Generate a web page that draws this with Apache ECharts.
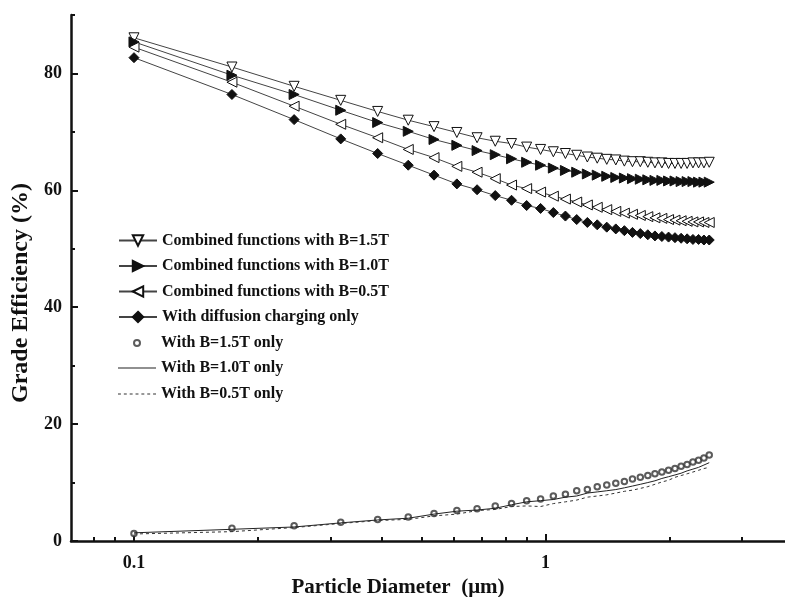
<!DOCTYPE html>
<html>
<head>
<meta charset="utf-8">
<script src="https://cdn.jsdelivr.net/npm/echarts@6/dist/echarts.min.js"></script>
<style>
html, body { margin: 0; padding: 0; background: #fff; }
#chart { width: 785px; height: 597px; }
</style>
</head>
<body>
<div id="chart"></div>
<script>
// particle diameters (um)
const diameters = [0.1, 0.173, 0.245, 0.318, 0.391, 0.464, 0.536, 0.609, 0.682, 0.755, 0.827, 0.9,
  0.973, 1.045, 1.118, 1.191, 1.264, 1.336, 1.409, 1.482, 1.555, 1.627, 1.7, 1.773, 1.845, 1.918,
  1.991, 2.064, 2.136, 2.209, 2.282, 2.355, 2.427, 2.5];

const combined15 = [86.1, 81.1, 77.8, 75.4, 73.5, 72.0, 70.9, 69.9, 69.0, 68.4, 68.0, 67.4, 67.0,
  66.6, 66.3, 66.0, 65.7, 65.5, 65.3, 65.2, 65.0, 64.9, 64.9, 64.8, 64.7, 64.7, 64.6, 64.6, 64.6,
  64.6, 64.7, 64.7, 64.7, 64.8];
const combined10 = [85.4, 79.7, 76.4, 73.7, 71.6, 70.1, 68.7, 67.7, 66.8, 66.1, 65.4, 64.8, 64.3,
  63.8, 63.4, 63.1, 62.8, 62.6, 62.4, 62.2, 62.1, 62.0, 61.9, 61.8, 61.7, 61.7, 61.6, 61.6, 61.5,
  61.5, 61.5, 61.4, 61.4, 61.4];
const combined05 = [84.5, 78.5, 74.4, 71.3, 69.0, 67.0, 65.6, 64.1, 63.1, 62.0, 60.9, 60.3, 59.7,
  59.0, 58.5, 58.0, 57.5, 57.1, 56.7, 56.4, 56.1, 55.9, 55.7, 55.5, 55.3, 55.2, 55.0, 54.9, 54.8,
  54.7, 54.6, 54.6, 54.5, 54.5];
const diffusionOnly = [82.7, 76.4, 72.1, 68.8, 66.3, 64.3, 62.6, 61.1, 60.1, 59.1, 58.3, 57.4, 56.9,
  56.2, 55.6, 55.0, 54.5, 54.1, 53.7, 53.4, 53.1, 52.8, 52.6, 52.4, 52.2, 52.1, 52.0, 51.9, 51.8,
  51.7, 51.6, 51.6, 51.5, 51.5];
const magnet15 = [1.3, 2.2, 2.6, 3.2, 3.7, 4.1, 4.7, 5.2, 5.5, 6.0, 6.4, 6.9, 7.2, 7.7, 8.0, 8.6,
  8.8, 9.3, 9.6, 9.9, 10.2, 10.6, 10.9, 11.2, 11.5, 11.8, 12.1, 12.4, 12.8, 13.1, 13.5, 13.8, 14.2, 14.7];
const magnet10 = [1.4, 2.0, 2.4, 3.1, 3.6, 3.9, 4.6, 5.1, 5.3, 5.6, 6.2, 6.7, 6.9, 7.1, 7.5, 7.7,
  8.2, 8.4, 8.6, 8.8, 9.1, 9.4, 9.7, 10.0, 10.3, 10.7, 11.0, 11.3, 11.6, 12.0, 12.3, 12.6, 13.0, 13.4];
const magnet05 = [1.2, 1.6, 2.3, 3.0, 3.5, 3.7, 4.3, 4.6, 5.2, 5.4, 5.9, 6.0, 5.9, 6.4, 6.7, 7.0,
  7.5, 7.7, 7.9, 8.2, 8.5, 8.7, 9.0, 9.3, 9.7, 10.1, 10.4, 10.9, 11.2, 11.5, 11.8, 12.1, 12.4, 12.6];

const names = [
  'Combined functions with B=1.5T',
  'Combined functions with B=1.0T',
  'Combined functions with B=0.5T',
  'With diffusion charging only',
  'With B=1.5T only',
  'With B=1.0T only',
  'With B=0.5T only'
];

const xMinor = [0.08, 0.09, 0.2, 0.3, 0.4, 0.5, 0.6, 0.7, 0.8, 0.9, 2, 3];
const yMajor = [0, 20, 40, 60, 80];
const yMinor = [10, 30, 50, 70, 90];

const FONT = '"Liberation Serif", "Times New Roman", serif';
const pairs = (ys) => diameters.map((d, i) => [d, ys[i]]);

const markerSeries = (name, ys, symbol, rotate, fill) => ({
  name: name,
  type: 'line',
  data: pairs(ys),
  symbol: symbol,
  symbolRotate: rotate,
  symbolSize: 10,
  showAllSymbol: true,
  lineStyle: { color: '#444', width: 1 },
  itemStyle: { color: fill, borderColor: '#111', borderWidth: 1 },
  z: 3
});

const chart = echarts.init(document.getElementById('chart'));
const legendText = { fontFamily: FONT, fontWeight: 'bold', fontSize: 16, color: '#111', lineHeight: 16 };

chart.setOption({
  animation: false,
  backgroundColor: '#fff',
  grid: { left: 71, right: 0, top: 15, bottom: 56, outerBoundsMode: 'none', containLabel: false },
  legend: [
    {
      orient: 'vertical', left: 113, top: 227.5, itemWidth: 38, itemHeight: 13, itemGap: 9.5,
      data: names.slice(0, 4), textStyle: legendText, selectedMode: false
    },
    {
      orient: 'vertical', left: 128, top: 330, itemWidth: 38, itemHeight: 6, itemGap: 9.5,
      data: [names[4]], textStyle: legendText, selectedMode: false
    },
    {
      orient: 'vertical', left: 113, top: 355, itemWidth: 38, itemHeight: 13, itemGap: 10,
      data: [
        { name: names[5], icon: 'path://M0,0H40V1H0Z' },
        { name: names[6], icon: 'path://M0,0H3V1H0Z M6,0H9V1H6Z M12,0H15V1H12Z M18,0H21V1H18Z M24,0H27V1H24Z M30,0H33V1H30Z M36,0H39V1H36Z' }
      ],
      textStyle: legendText, selectedMode: false
    }
  ],
  xAxis: [
    {
      type: 'log', logBase: 10, min: 0.0703, max: 3.82,
      name: 'Particle Diameter  (\u03bcm)', nameLocation: 'middle', nameGap: 33,
      nameTextStyle: { fontFamily: FONT, fontWeight: 'bold', fontSize: 21, color: '#111', padding: [0, 60, 0, 0] },
      axisLine: { lineStyle: { color: '#111', width: 2.5 } },
      axisTick: { inside: true, length: 7, lineStyle: { width: 2, color: '#111' } },
      axisLabel: { showMinLabel: false, showMaxLabel: false, margin: 13,
        fontFamily: FONT, fontWeight: 'bold', fontSize: 18, color: '#111' },
      splitLine: { show: false }
    },
    {
      type: 'log', logBase: 10, min: 0.0703, max: 3.82, position: 'bottom', offset: 0,
      axisLine: { show: false },
      axisTick: { show: true, inside: true, length: 4, customValues: xMinor, lineStyle: { width: 2, color: '#111' } },
      axisLabel: { show: false },
      splitLine: { show: false }
    }
  ],
  yAxis: [
    {
      type: 'value', min: 0, max: 90, interval: 20,
      name: 'Grade Efficiency (%)', nameLocation: 'middle', nameGap: 26,
      nameTextStyle: { fontFamily: FONT, fontWeight: 'bold', fontSize: 24, color: '#111', padding: [0, 30, 0, 0] },
      axisLine: { show: true, lineStyle: { color: '#111', width: 2.5 } },
      axisTick: { show: true, inside: true, length: 7, customValues: yMajor, lineStyle: { width: 2, color: '#111' } },
      axisLabel: { customValues: yMajor, margin: 9, fontFamily: FONT, fontWeight: 'bold', fontSize: 18, color: '#111' },
      splitLine: { show: false }
    },
    {
      type: 'value', min: 0, max: 90, position: 'left', offset: 0,
      axisLine: { show: false },
      axisTick: { show: true, inside: true, length: 4, customValues: yMinor, lineStyle: { width: 2, color: '#111' } },
      axisLabel: { show: false },
      splitLine: { show: false }
    }
  ],
  series: [
    markerSeries(names[0], combined15, 'triangle', 180, '#fff'),
    markerSeries(names[1], combined10, 'triangle', -90, '#111'),
    markerSeries(names[2], combined05, 'triangle', 90, '#fff'),
    markerSeries(names[3], diffusionOnly, 'diamond', 0, '#111'),
    {
      name: names[4], type: 'scatter', data: pairs(magnet15),
      symbol: 'emptyCircle', symbolSize: 5.5,
      itemStyle: { color: '#333', borderColor: '#333', borderWidth: 0.8 }
    },
    {
      name: names[5], type: 'line', data: pairs(magnet10), symbol: 'none',
      lineStyle: { color: '#222', width: 1 }, itemStyle: { color: '#222' }
    },
    {
      name: names[6], type: 'line', data: pairs(magnet05), symbol: 'none',
      lineStyle: { color: '#333', width: 1, type: [3, 3] }, itemStyle: { color: '#333' }
    }
  ]
});
</script>
</body>
</html>
